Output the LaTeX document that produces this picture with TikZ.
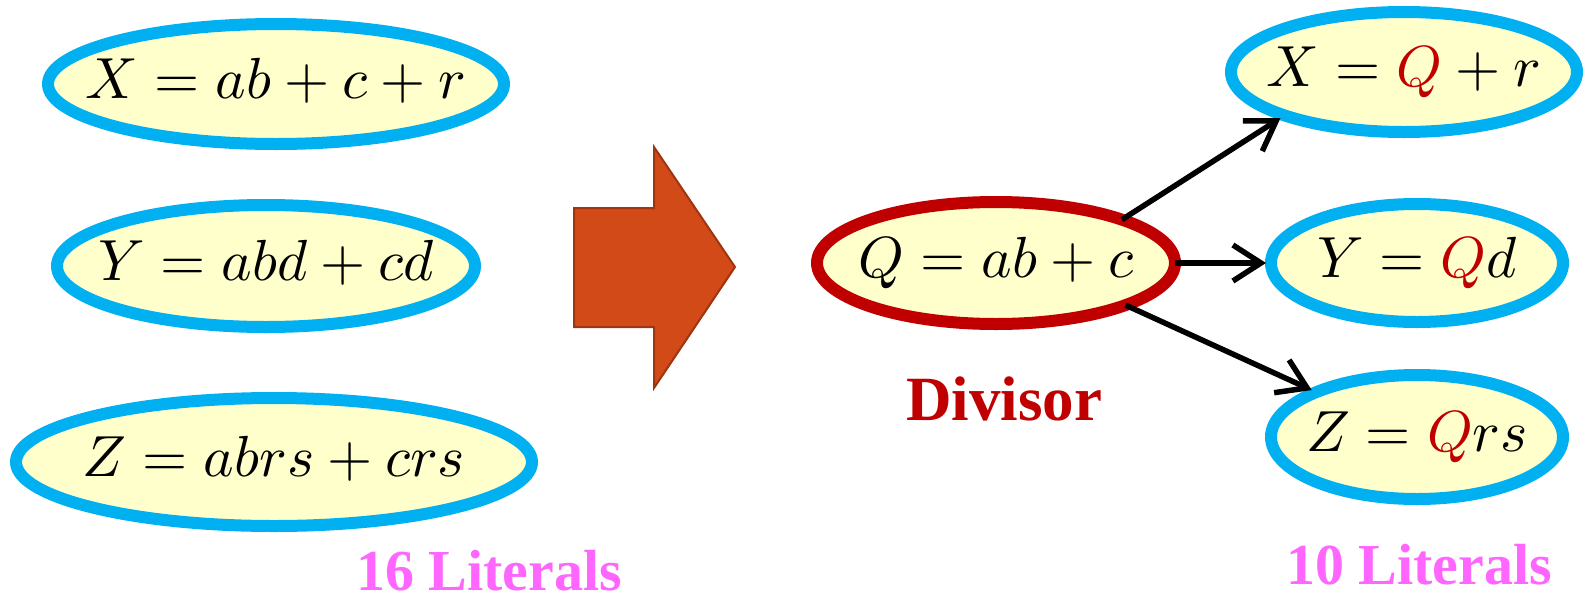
\documentclass[tikz,border=0pt]{standalone}
\usepackage[no-math]{fontspec}
\usepackage{graphicx}
\newfontfamily\labelfont{Liberation Serif}
\usetikzlibrary{shapes.geometric,arrows.meta}
\definecolor{cblue}{HTML}{00B0F0}
\definecolor{cfill}{HTML}{FFFFCC}
\definecolor{cred}{HTML}{C00000}
\definecolor{cpink}{HTML}{FF66FF}
\definecolor{corange}{HTML}{D24A17}
\definecolor{cborder}{HTML}{9E3410}
\newcommand{\redQ}{{\color{cred}Q}}
\newcommand{\eqtext}[1]{\smash{\makebox[0pt][c]{\raisebox{-14pt}{\scalebox{5.8}{$#1$}}}}}
\begin{document}
\begin{tikzpicture}[x=1pt,y=-1pt,
  eq/.style={ellipse, draw=cblue, line width=12pt, fill=cfill, inner sep=0pt, outer sep=0pt},
  divnode/.style={eq, draw=cred},
  conn/.style={-{Straight Barb[length=28pt,width=36pt]}, line width=5.5pt, shorten >=5pt},
  lbl/.style={font=\labelfont\bfseries\fontsize{58}{70}\selectfont, anchor=base, inner sep=0pt}]
\useasboundingbox (0,0) rectangle (1585,600);
% left column
\node[eq, minimum width=456pt, minimum height=120pt] (xl) at (276,84) {\eqtext{X = ab + c + r}};
\node[eq, minimum width=418pt, minimum height=122pt] (yl) at (266,266) {\eqtext{Y = abd + cd}};
\node[eq, minimum width=516pt, minimum height=128pt] (zl) at (274,462) {\eqtext{Z = abrs + crs}};
% big arrow
\draw[fill=corange, draw=cborder, line width=2pt, line join=miter]
  (574,208) -- (654,208) -- (654,147) -- (735,267) -- (654,388) -- (654,327) -- (574,327) -- cycle;
% divisor
\node[divnode, minimum width=358pt, minimum height=122pt] (q) at (996,263) {\eqtext{Q = ab + c}};
% right column
\node[eq, minimum width=346pt, minimum height=120pt] (xr) at (1404,72) {\eqtext{X = \redQ + r}};
\node[eq, minimum width=292pt, minimum height=118pt] (yr) at (1417,263) {\eqtext{Y = \redQ d}};
\node[eq, minimum width=292pt, minimum height=124pt] (zr) at (1417,437) {\eqtext{Z = \redQ rs}};
% connectors
\draw[conn] (q.19) -- (xr.200);
\draw[conn] (q.east) -- (yr.west);
\draw[conn] (q.-18) -- (zr.156);
% labels
\node[lbl, text=cred, font=\labelfont\bfseries\fontsize{63}{70}\selectfont] (divl) at (1004,420) {Divisor};
\node[lbl, text=cpink] (lit16) at (489,590) {16 Literals};
\node[lbl, text=cpink] (lit10) at (1419,584) {10 Literals};
\end{tikzpicture}
\end{document}
